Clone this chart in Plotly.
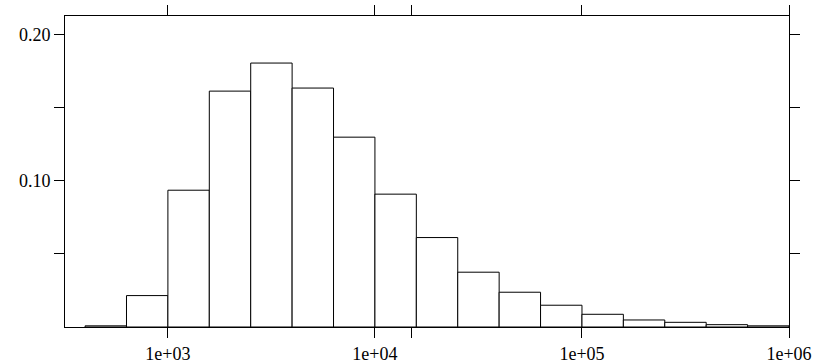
import plotly.graph_objects as go

# Histogram bins in log10(x), width 0.2 decade
bin_left_log10 = [2.6, 2.8, 3.0, 3.2, 3.4, 3.6, 3.8, 4.0, 4.2, 4.4, 4.6, 4.8, 5.0, 5.2, 5.4, 5.6, 5.8]
bin_width_log10 = 0.2
density = [0.0008, 0.0215, 0.0936, 0.1614, 0.1806, 0.1635, 0.1299, 0.0909, 0.0612,
           0.0375, 0.0238, 0.0149, 0.0087, 0.0048, 0.0032, 0.0016, 0.0008]

x_tick_vals = [3, 4, 4.1761, 5, 6]
x_tick_text = ["1e+03", "1e+04", "", "1e+05", "1e+06"]
y_tick_vals = [0.05, 0.10, 0.15, 0.20]
y_tick_text = ["", "0.10", "", "0.20"]

centers = [b + bin_width_log10 / 2 for b in bin_left_log10]

fig = go.Figure(go.Bar(
    x=centers, y=density, width=[bin_width_log10] * len(centers),
    marker=dict(color="white", line=dict(color="black", width=1)),
    hoverinfo="skip",
))

axis_common = dict(
    showgrid=False, zeroline=False, showline=True, linecolor="black", linewidth=1,
    mirror="ticks", ticks="outside", ticklen=10, tickwidth=1, tickcolor="black",
    tickfont=dict(family="Liberation Serif", size=18, color="black"),
    automargin=False,
)

fig.update_layout(
    width=814, height=363,
    margin=dict(l=65, r=25, t=16, b=36),
    plot_bgcolor="white", paper_bgcolor="white",
    showlegend=False, bargap=0,
    xaxis=dict(range=[2.503, 6.0], tickvals=x_tick_vals, ticktext=x_tick_text, **axis_common),
    yaxis=dict(range=[0, 0.2128], tickvals=y_tick_vals, ticktext=y_tick_text, **axis_common),
)

fig.write_html(
    "out.html",
    config={"displayModeBar": False, "staticPlot": True},
    post_script="document.body.style.margin='0';document.body.style.overflow='hidden';",
)
